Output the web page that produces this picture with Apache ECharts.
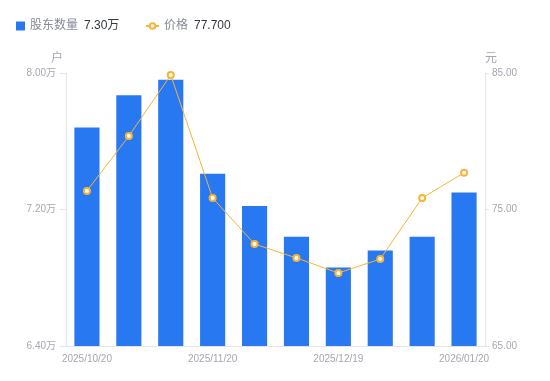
<!DOCTYPE html>
<html><head><meta charset="utf-8">
<script src="https://cdn.jsdelivr.net/npm/echarts@6/dist/echarts.min.js"></script>
<style>html,body{margin:0;padding:0;background:#fff}#c{width:550px;height:381px}</style>
</head><body><div id="c"></div>
<script>
const categories = ['2025/10/20','2025/10/31','2025/11/10','2025/11/20','2025/11/28','2025/12/10','2025/12/19','2025/12/31','2026/01/09','2026/01/20'];
const holders = [7.68, 7.87, 7.96, 7.41, 7.22, 7.04, 6.86, 6.96, 7.04, 7.30];
const prices = [76.36, 80.38, 84.85, 75.84, 72.47, 71.45, 70.35, 71.37, 75.84, 77.70];
const leftTicks = {min: 6.4, max: 8.0, interval: 0.8};
const rightTicks = {min: 65, max: 85, interval: 10};

const chart = echarts.init(document.getElementById('c'));
const font = '"Liberation Sans", "Noto Sans CJK SC", sans-serif';
const legendText = {fontFamily: font, fontSize: 12, color: '#868b96',
  rich: {v: {color: '#333840', fontSize: 12, fontFamily: font, padding: [0,0,0,6]}}};
chart.setOption({
  animation: false,
  textStyle: {fontFamily: font},
  legend: [{
    left: 11, top: 15, itemWidth: 9, itemHeight: 9,
    textStyle: legendText,
    formatter: name => name + '{v|' + holders[holders.length-1].toFixed(2) + '万}',
    data: [{name: '股东数量', icon: 'rect', itemStyle: {color: '#2878f2'}}]
  }, {
    left: 140, top: 15, itemWidth: 13, itemHeight: 7,
    textStyle: legendText,
    formatter: name => name + '{v|' + prices[prices.length-1].toFixed(3) + '}',
    data: [{name: '价格'}]
  }],
  grid: {left: 66, right: 65, top: 73, bottom: 35},
  xAxis: {
    type: 'category', data: categories,
    axisLine: {lineStyle: {color: '#e3e5ea'}},
    axisTick: {show: false},
    axisLabel: {interval: 2, color: '#a3a7b1', fontSize: 10, margin: 8, fontFamily: font}
  },
  yAxis: [{
    type: 'value', name: '户', min: leftTicks.min, max: leftTicks.max, interval: leftTicks.interval,
    nameTextStyle: {color: '#a3a7b1', fontSize: 12, align: 'right', padding: [0, 3, 0, 0], fontFamily: font},
    nameGap: 8,
    axisLine: {show: true, lineStyle: {color: '#e3e5ea'}},
    axisTick: {show: true, length: 6, lineStyle: {color: '#e3e5ea'}},
    splitLine: {show: false},
    axisLabel: {color: '#a3a7b1', fontSize: 10, margin: 10, fontFamily: font,
      formatter: v => v.toFixed(2) + '万'}
  }, {
    type: 'value', name: '元', min: rightTicks.min, max: rightTicks.max, interval: rightTicks.interval,
    nameTextStyle: {color: '#a3a7b1', fontSize: 12, align: 'left', fontFamily: font},
    nameGap: 8,
    axisLine: {show: true, lineStyle: {color: '#e3e5ea'}},
    axisTick: {show: true, length: 4, lineStyle: {color: '#e3e5ea'}},
    splitLine: {show: false},
    axisLabel: {color: '#a3a7b1', fontSize: 10, margin: 7, fontFamily: font,
      formatter: v => v.toFixed(2)}
  }],
  series: [{
    name: '股东数量', type: 'bar', data: holders, yAxisIndex: 0, barWidth: '60%',
    itemStyle: {color: '#2878f2'}
  }, {
    name: '价格', type: 'line', data: prices, yAxisIndex: 1,
    symbol: 'emptyCircle', symbolSize: 6,
    lineStyle: {color: '#f7b439', width: 1},
    itemStyle: {color: '#f7b439', borderWidth: 1.5}
  }]
});
</script></body></html>
